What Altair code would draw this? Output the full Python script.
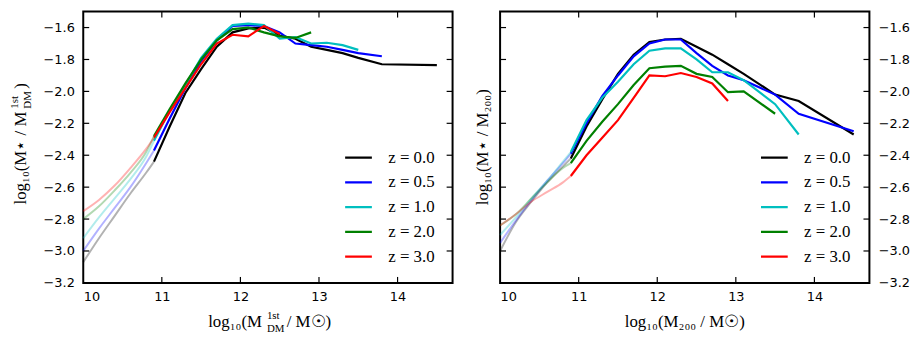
import altair as alt
import pandas as pd

# ---------------- axes ----------------
X_DOMAIN = [10.0, 14.7]
Y_DOMAIN = [-3.2, -1.5]
X_TICKS = [10, 11, 12, 13, 14]
Y_TICKS = [-3.2, -3.0, -2.8, -2.6, -2.4, -2.2, -2.0, -1.8, -1.6]
X_INNER = [11, 12, 13, 14]
Y_INNER = [-3.0, -2.8, -2.6, -2.4, -2.2, -2.0, -1.8, -1.6]

Z_LABELS = ["z = 0.0", "z = 0.5", "z = 1.0", "z = 2.0", "z = 3.0"]
Z_COLORS = ["#000000", "#0000ff", "#00bfbf", "#008000", "#ff0000"]

# ---------------- left panel: M_DM^1st ----------------
DM_X = [10.9, 11.1, 11.3, 11.5, 11.7, 11.9, 12.1, 12.3, 12.5, 12.7, 12.9, 13.1, 13.3, 13.5, 13.8, 14.5]
DM_Z00 = [-2.44, -2.22, -2.01, -1.86, -1.72, -1.63, -1.605, -1.60, -1.65, -1.67, -1.72, -1.74, -1.76, -1.79, -1.83, -1.835]
DM_Z05 = [-2.37, -2.17, -1.98, -1.81, -1.68, -1.59, -1.585, -1.59, -1.63, -1.70, -1.71, -1.72, -1.74, -1.76, -1.78]
DM_Z10 = [-2.31, -2.12, -1.96, -1.79, -1.67, -1.585, -1.575, -1.585, -1.67, -1.66, -1.70, -1.695, -1.71, -1.74]
DM_Z20 = [-2.28, -2.11, -1.95, -1.80, -1.68, -1.61, -1.60, -1.63, -1.655, -1.665, -1.63]
DM_Z30 = [-2.29, -2.13, -1.98, -1.83, -1.70, -1.645, -1.655, -1.59, -1.64]

FADE_X = [10.0, 10.2, 10.4, 10.6, 10.8, 10.9]
DM_FADE_Z00 = [-3.07, -2.92, -2.78, -2.64, -2.51, -2.44]
DM_FADE_Z05 = [-3.00, -2.86, -2.73, -2.60, -2.45, -2.37]
DM_FADE_Z10 = [-2.92, -2.79, -2.67, -2.55, -2.41, -2.31]
DM_FADE_Z20 = [-2.80, -2.72, -2.62, -2.51, -2.38, -2.28]
DM_FADE_Z30 = [-2.75, -2.68, -2.59, -2.48, -2.36, -2.29]

# ---------------- right panel: M_200 ----------------
M_X = [10.9, 11.1, 11.3, 11.5, 11.7, 11.9, 12.1, 12.3, 12.5, 12.7, 12.9, 13.1, 13.5, 13.8, 14.5]
M_Z00 = [-2.42, -2.22, -2.05, -1.89, -1.77, -1.69, -1.675, -1.67, -1.72, -1.77, -1.83, -1.89, -2.02, -2.06, -2.27]
M_Z05 = [-2.39, -2.20, -2.03, -1.90, -1.78, -1.70, -1.675, -1.675, -1.76, -1.84, -1.90, -1.93, -2.02, -2.14, -2.25]
M_Z10 = [-2.38, -2.18, -2.04, -1.94, -1.83, -1.745, -1.73, -1.73, -1.80, -1.88, -1.88, -1.93, -2.08, -2.27]
M_Z20 = [-2.45, -2.31, -2.19, -2.08, -1.96, -1.855, -1.845, -1.84, -1.89, -1.91, -2.005, -2.00, -2.14]
M_Z30 = [-2.53, -2.40, -2.29, -2.18, -2.04, -1.90, -1.905, -1.885, -1.91, -1.95, -2.06]

M_FADE_Z00 = [-3.00, -2.82, -2.69, -2.57, -2.47, -2.42]
M_FADE_Z05 = [-2.95, -2.81, -2.68, -2.56, -2.45, -2.39]
M_FADE_Z10 = [-2.90, -2.79, -2.67, -2.56, -2.44, -2.38]
M_FADE_Z20 = [-2.84, -2.77, -2.67, -2.57, -2.48, -2.45]
M_FADE_Z30 = [-2.84, -2.77, -2.69, -2.63, -2.57, -2.53]


def long(xs, series):
    rows = []
    for lab, ys in zip(Z_LABELS, series):
        for x, y in zip(xs, ys):
            rows.append({"x": x, "y": y, "z": lab})
    return pd.DataFrame(rows)


W, H = 373, 274
TICK = 6
SERIF = "Liberation Serif"


def txt(text, x, y, size=17, align="center", angle=0, dx=0, dy=0):
    return alt.Chart(pd.DataFrame({"t": [text]})).mark_text(
        font=SERIF, fontSize=size, align=align, baseline="alphabetic",
        angle=angle, dx=dx, dy=dy, color="black"
    ).encode(text="t:N", x=alt.value(x), y=alt.value(y))


def panel(solid, faded, y_orient, titles, legend_x, legend_y):
    xs = alt.Scale(domain=X_DOMAIN, nice=False, zero=False)
    ys = alt.Scale(domain=Y_DOMAIN, nice=False, zero=False)
    xaxis = alt.Axis(values=X_TICKS, format="d", title=None, labelPadding=8)
    yaxis = alt.Axis(values=Y_TICKS, format=".1f", title=None, orient=y_orient, labelPadding=9)
    X = alt.X("x:Q", scale=xs, axis=xaxis)
    Y = alt.Y("y:Q", scale=ys, axis=yaxis)
    cscale = alt.Scale(domain=Z_LABELS, range=Z_COLORS)
    line = alt.Chart(solid).mark_line(strokeWidth=2.2).encode(
        x=X, y=Y,
        color=alt.Color(
            "z:N", scale=cscale,
            legend=alt.Legend(
                title=None, orient="none", legendX=legend_x, legendY=legend_y,
                symbolType="stroke", symbolSize=729, symbolStrokeWidth=2.2,
                symbolOpacity=1,
                labelFont=SERIF, labelFontSize=17, labelColor="black",
                labelOffset=15, clipHeight=25, rowPadding=0, padding=0,
            ),
        ),
    )
    fade = alt.Chart(faded).mark_line(strokeWidth=2, strokeOpacity=0.3, interpolate="monotone").encode(
        x=X, y=Y, color=alt.Color("z:N", scale=cscale)
    )
    xt = pd.DataFrame({"x": X_INNER})
    yt = pd.DataFrame({"y": Y_INNER})
    rule = dict(color="black", strokeWidth=1.2)
    tick_b = alt.Chart(xt).mark_rule(**rule).encode(x=X, y=alt.value(H), y2=alt.value(H - TICK))
    tick_t = alt.Chart(xt).mark_rule(**rule).encode(x=X, y=alt.value(0), y2=alt.value(TICK))
    tick_l = alt.Chart(yt).mark_rule(**rule).encode(y=Y, x=alt.value(0), x2=alt.value(TICK))
    tick_r = alt.Chart(yt).mark_rule(**rule).encode(y=Y, x=alt.value(W), x2=alt.value(W - TICK))
    return alt.layer(line, fade, tick_b, tick_t, tick_l, tick_r, *titles).properties(width=W, height=H)


YC = H / 2
XB = H + 45
left_titles = [
    # y title (rotated)
    txt("log₁₀(M⋆ / M", -58, YC, align="right", angle=270, dx=36),
    txt("1st", -58, YC, size=11, align="left", angle=270, dx=39, dy=-8),
    txt("DM", -58, YC, size=11, align="left", angle=270, dx=39, dy=5),
    txt(")", -58, YC, align="left", angle=270, dx=59),
    # x title
    txt("log₁₀(M", W / 2, XB, align="right", dx=-6),
    txt("1st", W / 2, XB, size=11, align="left", dx=-1, dy=-9),
    txt("DM", W / 2, XB, size=11, align="left", dx=-1, dy=5),
    txt(" / M☉)", W / 2, XB, align="left", dx=19),
]
right_titles = [
    txt("log₁₀(M⋆ / M₂₀₀)", -12, YC, angle=270),
    txt("log₁₀(M₂₀₀ / M☉)", W / 2, XB),
]

left = panel(
    long(DM_X, [DM_Z00, DM_Z05, DM_Z10, DM_Z20, DM_Z30]),
    long(FADE_X, [DM_FADE_Z00, DM_FADE_Z05, DM_FADE_Z10, DM_FADE_Z20, DM_FADE_Z30]),
    "left", left_titles, 263, 135,
)
right = panel(
    long(M_X, [M_Z00, M_Z05, M_Z10, M_Z20, M_Z30]),
    long(FADE_X, [M_FADE_Z00, M_FADE_Z05, M_FADE_Z10, M_FADE_Z20, M_FADE_Z30]),
    "right", right_titles, 262, 135,
)

chart = (
    alt.hconcat(left, right, spacing=18)
    .resolve_scale(color="independent")
    .resolve_legend(color="independent")
    .properties(padding=0, background="white")
    .configure_view(stroke="black", strokeWidth=2)
    .configure_axis(labelFont="DejaVu Sans", labelFontSize=13, labelColor="black",
                    ticks=False, domain=False, grid=False)
    .configure_legend(symbolOpacity=1)
)

chart.save("out.html", embed_options={"renderer": "svg", "actions": False})
